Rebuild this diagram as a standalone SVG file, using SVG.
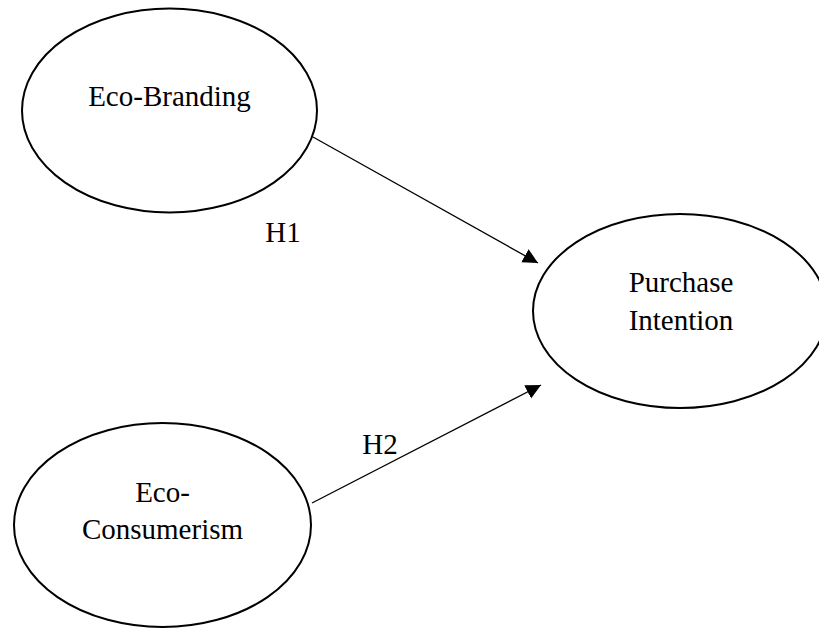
<svg xmlns="http://www.w3.org/2000/svg" width="819" height="628" viewBox="0 0 819 628">
<style>
.node ellipse{fill:#fff;stroke:#000;stroke-width:2}
text{font-family:"Liberation Serif","Times New Roman",serif;font-size:29px;fill:#000;text-anchor:middle}
.conn line{stroke:#000;stroke-width:1.3}
</style>
<defs>
<marker id="ah" markerUnits="userSpaceOnUse" markerWidth="16" markerHeight="16" refX="15" refY="7.5" orient="auto">
<path d="M0,0 L15,7.5 L0,15 z" fill="#000"/>
</marker>
</defs>
<rect width="819" height="628" fill="#fff"/>
<g id="eco-branding" class="node">
<ellipse cx="169.5" cy="110.5" rx="147.5" ry="102"/>
<text x="169.5" y="106">Eco-Branding</text>
</g>
<g id="purchase-intention" class="node">
<ellipse cx="680" cy="311" rx="147" ry="97"/>
<text x="681" y="292">Purchase</text>
<text x="681" y="330">Intention</text>
</g>
<g id="eco-consumerism" class="node">
<ellipse cx="162.5" cy="525" rx="148.5" ry="102"/>
<text x="162.5" y="502">Eco-</text>
<text x="162.5" y="539">Consumerism</text>
</g>
<g id="connectors" class="conn">
<line x1="313" y1="137" x2="538" y2="263" marker-end="url(#ah)"/>
<line x1="312" y1="503" x2="541" y2="385" marker-end="url(#ah)"/>
<text x="283" y="242">H1</text>
<text x="380" y="454">H2</text>
</g>
</svg>
